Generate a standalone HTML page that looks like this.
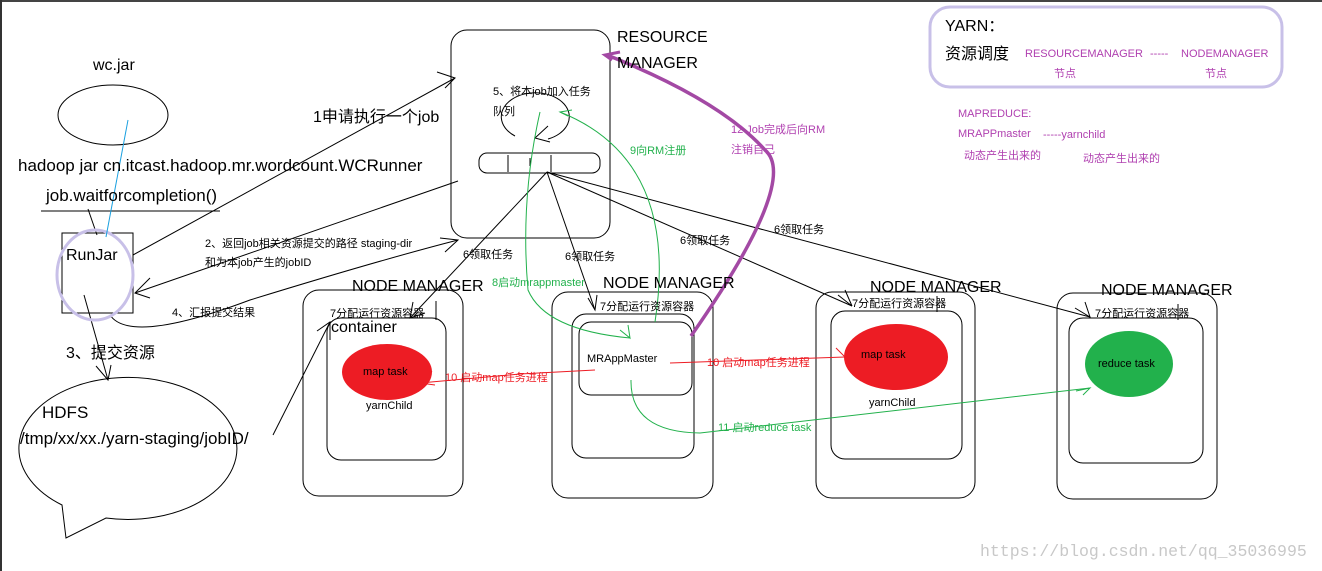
<!DOCTYPE html>
<html><head><meta charset="utf-8"><style>
html,body{margin:0;padding:0;background:#fff}
svg{display:block}
text{font-family:"Liberation Sans","Noto Sans CJK SC",sans-serif}
text.wm{font-family:"Liberation Mono",monospace}
</style></head><body>
<svg width="1322" height="571" viewBox="0 0 1322 571" xmlns="http://www.w3.org/2000/svg">
<rect x="0" y="0" width="1322" height="571" fill="#fff"/>
<rect x="0" y="0" width="1322" height="2" fill="#444"/>
<rect x="0" y="0" width="2" height="571" fill="#333"/>
<g fill="none" stroke="#000" stroke-width="1">
<!-- RM -->
<rect x="451" y="30" width="159" height="208" rx="16"/>
<path d="M515,136 A34,24 0 1 1 548,139"/>
<rect x="479" y="153" width="121" height="20" rx="8"/>
<line x1="508" y1="155" x2="508" y2="172"/><line x1="530" y1="158" x2="530" y2="166"/><line x1="551" y1="155" x2="551" y2="172"/>
<path d="M548,126 L535,138 L550,142"/>
<!-- wc.jar -->
<ellipse cx="113" cy="115" rx="55" ry="30"/>
<line x1="41" y1="211" x2="220" y2="211"/>
<line x1="88" y1="209" x2="97" y2="235"/>
<rect x="62" y="233" width="71" height="80"/>
<!-- arrows -->
<line x1="133" y1="255" x2="455" y2="78"/><path d="M437,72 L455,78 L445,88"/>
<line x1="458" y1="181" x2="135" y2="293"/><path d="M150,278 L135,293 L150,298"/>
<path d="M110,315 Q130,345 250,300 Q380,260 458,240"/><path d="M445,252 L458,240 L440,238"/>
<line x1="84" y1="295" x2="108" y2="380"/><path d="M96,366 L108,380 L111,365"/>
<line x1="273" y1="435" x2="330" y2="322"/><path d="M317,331 L330,322 L330,340"/>
<!-- queue lines -->
<line x1="547" y1="172" x2="410" y2="318"/><path d="M413,302 L410,318 L425,313"/>
<line x1="547" y1="172" x2="595" y2="310"/><path d="M588,298 L595,310 L597,295"/>
<line x1="547" y1="172" x2="852" y2="306"/><path d="M838,295 L852,306 L845,290"/>
<line x1="547" y1="172" x2="1090" y2="317"/><path d="M1075,308 L1090,317 L1085,302"/>
<!-- HDFS bubble -->
<path d="M62,505 A109,71 0 1 1 106,518 L66,538 Z" />
<!-- NMs -->
<rect x="303" y="290" width="160" height="206" rx="16"/>
<rect x="327" y="318" width="119" height="142" rx="14"/>
<rect x="552" y="292" width="161" height="206" rx="16"/>
<rect x="572" y="314" width="122" height="144" rx="14"/>
<rect x="579" y="322" width="113" height="73" rx="12"/>
<rect x="816" y="292" width="159" height="206" rx="16"/>
<rect x="831" y="311" width="131" height="148" rx="14"/>
<rect x="1057" y="293" width="160" height="206" rx="16"/>
<rect x="1069" y="318" width="134" height="145" rx="14"/>
<line x1="436" y1="301" x2="436" y2="320"/><line x1="937" y1="296" x2="937" y2="312"/><line x1="1178" y1="304" x2="1178" y2="320"/>
</g>
<!-- lavender -->
<ellipse cx="95" cy="275" rx="38" ry="45" fill="none" stroke="#c8c0e8" stroke-width="3"/>
<rect x="930" y="7" width="352" height="80" rx="20" fill="none" stroke="#c8c0e8" stroke-width="3"/>
<line x1="128" y1="120" x2="106" y2="237" stroke="#1aa0e0"/>
<!-- ellipses -->
<ellipse cx="387" cy="372" rx="45" ry="28" fill="#ed1c24"/>
<ellipse cx="896" cy="357" rx="52" ry="33" fill="#ed1c24"/>
<ellipse cx="1129" cy="364" rx="44" ry="33" fill="#22b14c"/>
<!-- red lines -->
<g stroke="#ed1c24" fill="none">
<path d="M595,370 L520,374 L420,383"/><path d="M432,371 L420,383 L435,385"/>
<path d="M670,363 L845,357"/><path d="M836,348 L845,357"/>
</g>
<!-- green lines -->
<g stroke="#22b14c" fill="none">
<path d="M540,112 Q520,200 528,290 Q545,330 630,338"/><path d="M620,330 L630,338 L628,325"/>
<path d="M655,322 Q680,160 560,112"/><path d="M572,110 L560,112 L568,116"/>
<path d="M631,380 Q630,432 700,433 L1090,388"/><path d="M1083,395 L1090,388 L1076,391"/>
</g>
<path d="M691,336 Q800,180 765,150 Q720,100 607,55" fill="none" stroke="#a349a4" stroke-width="3.5"/>
<path d="M620,52 L605,55 L612,60" fill="none" stroke="#a349a4" stroke-width="3"/>
<!-- text -->
<g fill="#000">
<text x="617" y="42" font-size="16">RESOURCE</text>
<text x="617" y="68" font-size="16">MANAGER</text>
<text x="93" y="70" font-size="16">wc.jar</text>
<text x="18" y="171" font-size="17">hadoop jar cn.itcast.hadoop.mr.wordcount.WCRunner</text>
<text x="46" y="201" font-size="17">job.waitforcompletion()</text>
<text x="66" y="260" font-size="16">RunJar</text>
<text x="313" y="122" font-size="16">1申请执行一个job</text>
<text x="493" y="95" font-size="11">5、将本job加入任务</text>
<text x="493" y="115" font-size="11">队列</text>
<text x="205" y="247" font-size="11">2、返回job相关资源提交的路径 staging-dir</text>
<text x="205" y="266" font-size="11">和为本job产生的jobID</text>
<text x="172" y="316" font-size="11">4、汇报提交结果</text>
<text x="66" y="358" font-size="16">3、提交资源</text>
<text x="42" y="418" font-size="17">HDFS</text>
<text x="20" y="444" font-size="17">/tmp/xx/xx./yarn-staging/jobID/</text>
<text x="463" y="258" font-size="11">6领取任务</text>
<text x="565" y="260" font-size="11">6领取任务</text>
<text x="680" y="244" font-size="11">6领取任务</text>
<text x="774" y="233" font-size="11">6领取任务</text>
<text x="352" y="291" font-size="16">NODE MANAGER</text>
<text x="603" y="288" font-size="16">NODE MANAGER</text>
<text x="870" y="292" font-size="16">NODE MANAGER</text>
<text x="1101" y="295" font-size="16">NODE MANAGER</text>
<text x="330" y="317" font-size="11">7分配运行资源容器</text>
<text x="600" y="310" font-size="11">7分配运行资源容器</text>
<text x="852" y="307" font-size="11">7分配运行资源容器</text>
<text x="1095" y="317" font-size="11">7分配运行资源容器</text>
<text x="331" y="332" font-size="16">container</text>
<text x="363" y="375" font-size="11">map task</text>
<text x="366" y="409" font-size="11">yarnChild</text>
<text x="587" y="362" font-size="11">MRAppMaster</text>
<text x="861" y="358" font-size="11">map task</text>
<text x="869" y="406" font-size="11">yarnChild</text>
<text x="1098" y="367" font-size="11">reduce task</text>
<text x="945" y="31" font-size="16">YARN：</text>
<text x="945" y="59" font-size="16">资源调度</text>
</g>
<g fill="#b040b0" font-size="11">
<text x="1025" y="57">RESOURCEMANAGER</text><text x="1150" y="57">-----</text><text x="1181" y="57">NODEMANAGER</text>
<text x="1054" y="77">节点</text><text x="1205" y="77">节点</text>
<text x="958" y="117">MAPREDUCE:</text>
<text x="958" y="137">MRAPPmaster</text><text x="1043" y="138">-----yarnchild</text>
<text x="964" y="159">动态产生出来的</text><text x="1083" y="162">动态产生出来的</text>
<text x="731" y="133">12 Job完成后向RM</text><text x="731" y="153">注销自己</text>
</g>
<g fill="#22b14c" font-size="11">
<text x="630" y="154">9向RM注册</text>
<text x="492" y="286">8启动mrappmaster</text>
<text x="718" y="431">11 启动reduce task</text>
</g>
<g fill="#ed1c24" font-size="11">
<text x="445" y="381">10 启动map任务进程</text>
<text x="707" y="366">10 启动map任务进程</text>
</g>
<text class="wm" x="980" y="556" font-size="16.5" fill="#c8c8c8">https://blog.csdn.net/qq_35036995</text>
</svg>
</body></html>
